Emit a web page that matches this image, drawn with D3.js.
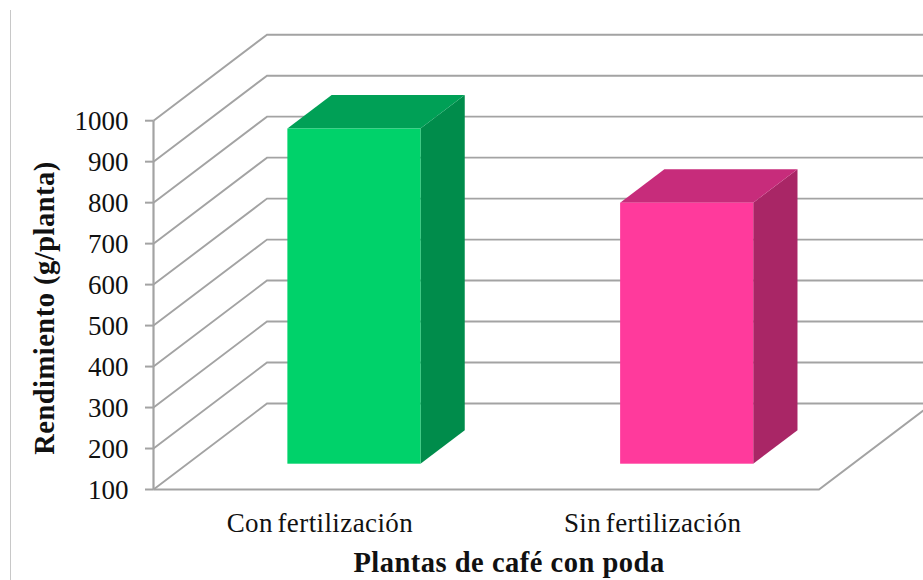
<!DOCTYPE html>
<html><head><meta charset="utf-8">
<script src="https://cdn.jsdelivr.net/npm/d3@7"></script>
<style>html,body{margin:0;padding:0;background:#fff;overflow:hidden}svg{display:block}
text{font-family:"Liberation Serif",serif;fill:#111}</style></head><body>
<svg id="c" width="923" height="580"></svg>
<script>
const categories = ["Con fertilización", "Sin fertilización"];
const values = [918, 737];
const tickValues = [100,200,300,400,500,600,700,800,900,1000];
const faceColors = ["#00D26A", "#FF3A9C"];
const topColors = ["#00A056", "#C72C7B"];
const sideColors = ["#008C4B", "#A92666"];
const xTitle = "Plantas de café con poda";
const yTitle = "Rendimiento (g/planta)";

const svg = d3.select("#c");
const grid = "#A3A3A3";
const y = d3.scaleLinear().domain([100,1000]).range([489.5,120.7]);
const x = d3.scaleBand().domain(categories).range([153.5,819]).paddingInner(0).paddingOuter(0);
const depth = {dx:113.5, dy:-86};
const barStart = 0.30, barSpan = 0.39;
const w = 923;

svg.append("line").attr("x1",10.5).attr("x2",10.5).attr("y1",10).attr("y2",580).attr("stroke","#C8C8C8").attr("stroke-width",1);

// walls
const g = svg.append("g").attr("fill","none").attr("stroke",grid);
tickValues.forEach(t=>{
  const py=y(t);
  g.append("path").attr("stroke-width",1.9)
   .attr("d",`M153.5,${py}L${153.5+depth.dx},${py+depth.dy}L${w},${py+depth.dy}`);
  g.append("line").attr("x1",145).attr("x2",153.5).attr("y1",py).attr("y2",py).attr("stroke-width",2);
});
g.append("line").attr("x1",153.5).attr("x2",153.5).attr("y1",y(1000)).attr("y2",y(100)).attr("stroke-width",2.2);
g.append("path").attr("stroke-width",2)
 .attr("d",`M153.5,${y(100)}L819,${y(100)}L${819+depth.dx},${y(100)+depth.dy}`);

// bars
categories.forEach((c,i)=>{
  const bw=x.bandwidth()*0.4;
  const x0=x(c)+x.bandwidth()*0.3+depth.dx*barStart, x1=x0+bw;
  const base=y(100)+depth.dy*barStart, top=base-(y(100)-y(values[i]));
  const sx=depth.dx*barSpan, sy=depth.dy*barSpan;
  const gb=svg.append("g");
  gb.append("path").attr("fill",sideColors[i]).attr("d",`M${x1},${base}L${x1+sx},${base+sy}L${x1+sx},${top+sy}L${x1},${top}Z`);
  gb.append("path").attr("fill",topColors[i]).attr("d",`M${x0},${top}L${x0+sx},${top+sy}L${x1+sx},${top+sy}L${x1},${top}Z`);
  gb.append("rect").attr("fill",faceColors[i]).attr("x",x0).attr("y",top).attr("width",bw).attr("height",base-top);
});

// labels
const ticks=svg.append("g").attr("text-anchor","end").attr("font-size",27);
tickValues.forEach(t=>ticks.append("text").attr("x",128.5).attr("y",y(t)+9).text(t));
categories.forEach(c=>svg.append("text").attr("x",x(c)+x.bandwidth()/2).attr("y",532).attr("text-anchor","middle").attr("font-size",27).attr("letter-spacing",0.4).attr("word-spacing",-2.5).text(c));
svg.append("text").attr("x",509).attr("y",572).attr("text-anchor","middle").attr("font-size",28.5).attr("font-weight","bold").attr("letter-spacing",0.5).text(xTitle);
svg.append("text").attr("transform","translate(53.5,308) rotate(-90)").attr("text-anchor","middle").attr("font-size",28.5).attr("font-weight","bold").attr("letter-spacing",0.5).text(yTitle);
</script></body></html>
